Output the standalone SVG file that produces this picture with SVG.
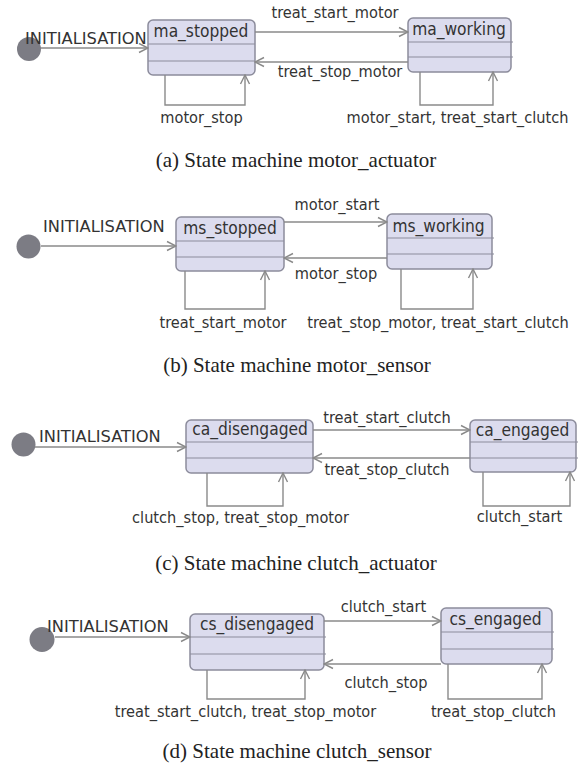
<svg xmlns="http://www.w3.org/2000/svg" width="584" height="767" viewBox="0 0 584 767">
  <style>
    .state rect { fill: #dcdcee; stroke: #8c8c9c; stroke-width: 1.5; }
    .state line { stroke: #8c8c9c; stroke-width: 1.2; }
    .name { font-family: "DejaVu Sans Condensed", "DejaVu Sans", sans-serif; font-stretch: condensed; font-size: 17.2px; fill: #333; text-anchor: middle; }
    .lbl { font-family: "DejaVu Sans Condensed", "DejaVu Sans", sans-serif; font-stretch: condensed; font-size: 16.2px; fill: #333; }
    .ini { font-family: "DejaVu Sans", sans-serif; font-size: 16.3px; fill: #333; }
    .mid { text-anchor: middle; }
    .init { fill: #7c7c84; }
    .edge { fill: none; stroke: #8a8a8a; stroke-width: 1.4; marker-end: url(#open); }
    .cap { font-family: "Liberation Serif", "Times New Roman", serif; font-size: 21px; fill: #222; text-anchor: middle; }
  </style>
  <defs>
    <marker id="open" markerUnits="userSpaceOnUse" markerWidth="12" markerHeight="12" viewBox="0 0 12 12" refX="11" refY="6" orient="auto">
      <path d="M2,1.5 L11,6 L2,10.5" fill="none" stroke="#8a8a8a" stroke-width="1.4"/>
    </marker>
  </defs>
  <rect width="584" height="767" fill="#ffffff"/>

  <!-- (a) motor_actuator -->
  <g id="a_init"><circle class="init" cx="29" cy="49" r="12"/></g>
  <g id="ma_stopped" class="state">
    <rect x="148" y="20" width="107" height="55" rx="5"/>
    <line x1="148" y1="44" x2="255" y2="44"/><line x1="148" y1="61" x2="255" y2="61"/>
    <text class="name" x="201" y="37">ma_stopped</text>
  </g>
  <g id="ma_working" class="state">
    <rect x="408" y="18" width="103" height="54" rx="5"/>
    <line x1="408" y1="42" x2="513" y2="42"/><line x1="408" y1="57" x2="513" y2="57"/>
    <text class="name" x="459" y="35">ma_working</text>
  </g>

  <!-- (b) motor_sensor -->
  <g id="b_init"><circle class="init" cx="28.5" cy="246.5" r="12"/></g>
  <g id="ms_stopped" class="state">
    <rect x="176" y="217" width="108" height="54" rx="5"/>
    <line x1="176" y1="241" x2="284" y2="241"/><line x1="176" y1="257" x2="284" y2="257"/>
    <text class="name" x="230" y="234">ms_stopped</text>
  </g>
  <g id="ms_working" class="state">
    <rect x="387" y="214" width="105" height="55" rx="5"/>
    <line x1="387" y1="238" x2="494" y2="238"/><line x1="387" y1="254" x2="494" y2="254"/>
    <text class="name" x="438.5" y="232">ms_working</text>
  </g>

  <!-- (c) clutch_actuator -->
  <g id="c_init"><circle class="init" cx="23.5" cy="444.5" r="12"/></g>
  <g id="ca_disengaged" class="state">
    <rect x="186" y="420" width="127" height="53" rx="5"/>
    <line x1="186" y1="442" x2="313" y2="442"/><line x1="186" y1="458" x2="313" y2="458"/>
    <text class="name" x="250" y="435">ca_disengaged</text>
  </g>
  <g id="ca_engaged" class="state">
    <rect x="470" y="420" width="106" height="52" rx="5"/>
    <line x1="470" y1="442" x2="578" y2="442"/><line x1="470" y1="458" x2="578" y2="458"/>
    <text class="name" x="522.5" y="436">ca_engaged</text>
  </g>

  <!-- (d) clutch_sensor -->
  <g id="d_init"><circle class="init" cx="42" cy="639.5" r="12.5"/></g>
  <g id="cs_disengaged" class="state">
    <rect x="190" y="614" width="134" height="56" rx="5"/>
    <line x1="190" y1="637" x2="326" y2="637"/><line x1="190" y1="654" x2="326" y2="654"/>
    <text class="name" x="257" y="630">cs_disengaged</text>
  </g>
  <g id="cs_engaged" class="state">
    <rect x="441" y="608" width="111" height="56" rx="5"/>
    <line x1="441" y1="632" x2="554" y2="632"/><line x1="441" y1="649" x2="554" y2="649"/>
    <text class="name" x="495.5" y="625">cs_engaged</text>
  </g>

  <g id="connectors">
    <!-- (a) -->
    <path class="edge" d="M41,48 H148"/>
    <path class="edge" d="M255,32 H408"/>
    <path class="edge" d="M408,62 H255"/>
    <path class="edge" d="M165,75 V105 H245 V75"/>
    <path class="edge" d="M420,72 V105 H493 V72"/>
    <!-- (b) -->
    <path class="edge" d="M41,246 H176"/>
    <path class="edge" d="M284,222 H387"/>
    <path class="edge" d="M387,258 H284"/>
    <path class="edge" d="M185,271 V309 H265 V271"/>
    <path class="edge" d="M401,269 V309 H473 V269"/>
    <!-- (c) -->
    <path class="edge" d="M35,447 H186"/>
    <path class="edge" d="M313,430 H470"/>
    <path class="edge" d="M470,458 H313"/>
    <path class="edge" d="M207,473 V506 H283 V473"/>
    <path class="edge" d="M483,472 V506 H570 V472"/>
    <!-- (d) -->
    <path class="edge" d="M55,637 H190"/>
    <path class="edge" d="M324,621 H441"/>
    <path class="edge" d="M441,664 H324"/>
    <path class="edge" d="M207,670 V699 H305 V670"/>
    <path class="edge" d="M448,664 V699 H542 V664"/>
  </g>

  <g id="edge-labels">
    <text class="ini" x="25" y="44">INITIALISATION</text>
    <text class="lbl mid" x="335" y="18">treat_start_motor</text>
    <text class="lbl mid" x="340" y="77">treat_stop_motor</text>
    <text class="lbl mid" x="201.5" y="123">motor_stop</text>
    <text class="lbl mid" x="457.5" y="123">motor_start, treat_start_clutch</text>

    <text class="ini" x="43" y="232">INITIALISATION</text>
    <text class="lbl mid" x="337" y="210">motor_start</text>
    <text class="lbl mid" x="336" y="279">motor_stop</text>
    <text class="lbl mid" x="223" y="328">treat_start_motor</text>
    <text class="lbl mid" x="438" y="328">treat_stop_motor, treat_start_clutch</text>

    <text class="ini" x="39" y="442">INITIALISATION</text>
    <text class="lbl mid" x="387" y="423">treat_start_clutch</text>
    <text class="lbl mid" x="387" y="475">treat_stop_clutch</text>
    <text class="lbl mid" x="240.5" y="523">clutch_stop, treat_stop_motor</text>
    <text class="lbl mid" x="519.5" y="522">clutch_start</text>

    <text class="ini" x="47" y="632" font-size="17">INITIALISATION</text>
    <text class="lbl mid" x="383.5" y="612">clutch_start</text>
    <text class="lbl mid" x="386" y="688">clutch_stop</text>
    <text class="lbl mid" x="245.5" y="717">treat_start_clutch, treat_stop_motor</text>
    <text class="lbl mid" x="493.5" y="717">treat_stop_clutch</text>
  </g>

  <g id="captions">
    <text class="cap" x="296" y="167">(a)  State machine motor_actuator</text>
    <text class="cap" x="297" y="372">(b)  State machine motor_sensor</text>
    <text class="cap" x="296" y="570">(c)  State machine clutch_actuator</text>
    <text class="cap" x="297" y="758">(d)  State machine clutch_sensor</text>
  </g>
</svg>
